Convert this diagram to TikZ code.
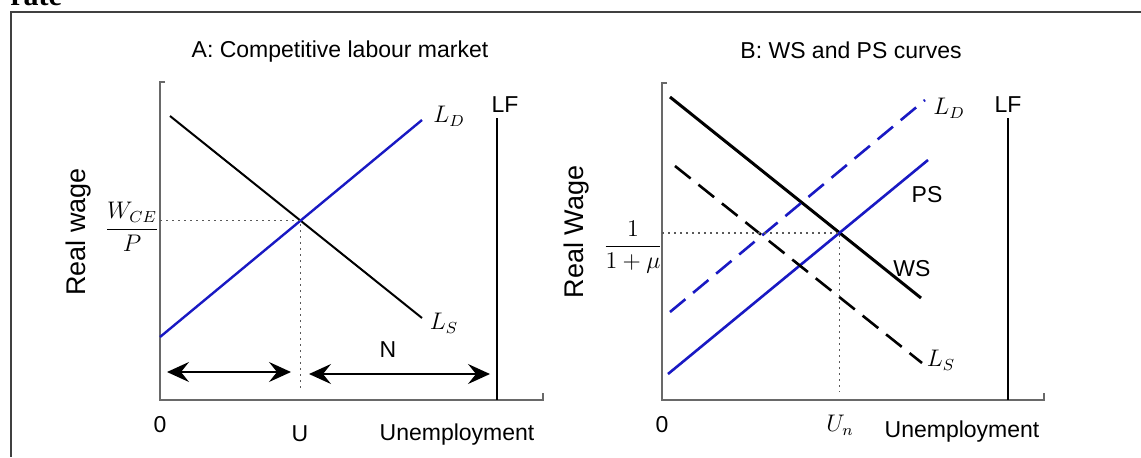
\documentclass[tikz,border=0pt]{standalone}
\usepackage{amsmath}
\usepackage{fontspec}
\setmainfont{Liberation Sans}
\newfontfamily\capfont{Liberation Serif}
\usepackage{tikz}
\usetikzlibrary{arrows.meta}

\definecolor{curveblue}{RGB}{25,25,195}
\definecolor{axisgray}{RGB}{105,105,105}

\begin{document}
\begin{tikzpicture}[x=0.5pt, y=-0.5pt,
  axis/.style={axisgray, line width=1pt},
  lfline/.style={black, line width=0.8pt},
  guide/.style={gray!70!black, line width=0.8pt, dash pattern=on 0.8pt off 2.2pt},
  curve/.style={line width=1pt},
  lbl/.style={font=\fontsize{11.5}{13}\selectfont, inner sep=0pt},
  ylbl/.style={font=\fontsize{13.5}{15}\selectfont, rotate=90, inner sep=0pt},
  mlbl/.style={font=\fontsize{11.5}{13}\selectfont, inner sep=0pt},
  spanarrow/.style={{Stealth[length=11pt,width=10pt,inset=4pt]}-{Stealth[length=11pt,width=10pt,inset=4pt]}, line width=0.8pt}]
\useasboundingbox (0,0) rectangle (1141,457);
% Frame
\draw[line width=1pt, black!75] (1141,12) -- (11,12) -- (11,457);
\node[font=\capfont\bfseries\fontsize{15}{15}\selectfont, anchor=base west, inner sep=0pt] (cap) at (10,5) {rate};

% ---------------- Panel A ----------------
\node[lbl, anchor=base] (titleA) at (340,57) {A: Competitive labour market};
% Axes
\draw[axis] (165,82) -- (160,82) -- (160,400) -- (543,400) -- (543,393);
\draw[lfline] (497,118) -- (497,400);
\node[lbl, anchor=base] (lfA) at (505,112) {LF};
\node[ylbl] (yA) at (79,232) {Real wage};
% Supply and demand
\coordinate (sA1) at (170,116); \coordinate (sA2) at (422,318);
\coordinate (dA1) at (160,337); \coordinate (dA2) at (422,120);
\draw[curve] (sA1) -- (sA2);
\draw[curve, curveblue, line width=1.2pt] (dA1) -- (dA2);
\node[mlbl] (lsA) at (444,323) {$L_S$};
\node[mlbl] (ldA) at (449,116) {$L_D$};
% Equilibrium
\coordinate (eA) at (intersection of sA1--sA2 and dA1--dA2);
\draw[guide] (160,0 |- eA) -- (eA) -- (eA |- 0,392);
\node[mlbl, font=\fontsize{12}{14}\selectfont] (wA) at (132,227) {$\dfrac{W_{CE}}{P}$};
% U and N
\coordinate (a1) at (167,372); \coordinate (a2) at (291,372);
\coordinate (a3) at (309,374); \coordinate (a4) at (490,374);
\draw[spanarrow] (a1) -- (a2);
\draw[spanarrow] (a3) -- (a4);
\node[lbl, anchor=base] (nA) at (388,357) {N};
% Axis labels
\node[lbl, anchor=base] (zA) at (160,432) {0};
\node[lbl, anchor=base] (uA) at (300,441) {U};
\node[lbl, anchor=base] (xA) at (457,440) {Unemployment};

% ---------------- Panel B ----------------
\node[lbl, anchor=base] (titleB) at (851,58) {B: WS and PS curves};
% Axes
\draw[axis] (667,83) -- (662,83) -- (662,400) -- (1044,400) -- (1044,393);
\draw[lfline] (1008,118) -- (1008,400);
\node[lbl, anchor=base] (lfB) at (1008,112) {LF};
\node[ylbl] (yB) at (577,232) {Real Wage};
% Curves
\coordinate (ws1) at (670,97);  \coordinate (ws2) at (921,298);
\coordinate (ps1) at (668,374); \coordinate (ps2) at (928,160);
\coordinate (sB1) at (675,166); \coordinate (sB2) at (922,363);
\coordinate (dB1) at (670,312); \coordinate (dB2) at (925,100);
\draw[curve, line width=1.5pt] (ws1) -- (ws2);
\draw[curve, curveblue, line width=1.3pt] (ps1) -- (ps2);
\draw[curve, line width=1.3pt, dash pattern=on 10pt off 5pt] (sB1) -- (sB2);
\draw[curve, curveblue, line width=1.3pt, dash pattern=on 10pt off 5pt] (dB1) -- (dB2);
\node[lbl, anchor=base] (wsB) at (912,276) {WS};
\node[lbl, anchor=base] (psB) at (927,202) {PS};
\node[mlbl] (ldB) at (949,108) {$L_D$};
\node[mlbl] (lsB) at (941,360) {$L_S$};
% Equilibrium
\coordinate (eB) at (intersection of ws1--ws2 and ps1--ps2);
\draw[guide] (662,0 |- eB) -- (eB) -- (eB |- 0,392);
\node[mlbl, font=\fontsize{12}{14}\selectfont] (muB) at (633,247) {$\dfrac{1}{1+\mu}$};
% Axis labels
\node[lbl, anchor=base] (zB) at (662,432) {0};
\node[mlbl] (unB) at (840,425) {$U_n$};
\node[lbl, anchor=base] (xB) at (962,437) {Unemployment};
\end{tikzpicture}
\end{document}
